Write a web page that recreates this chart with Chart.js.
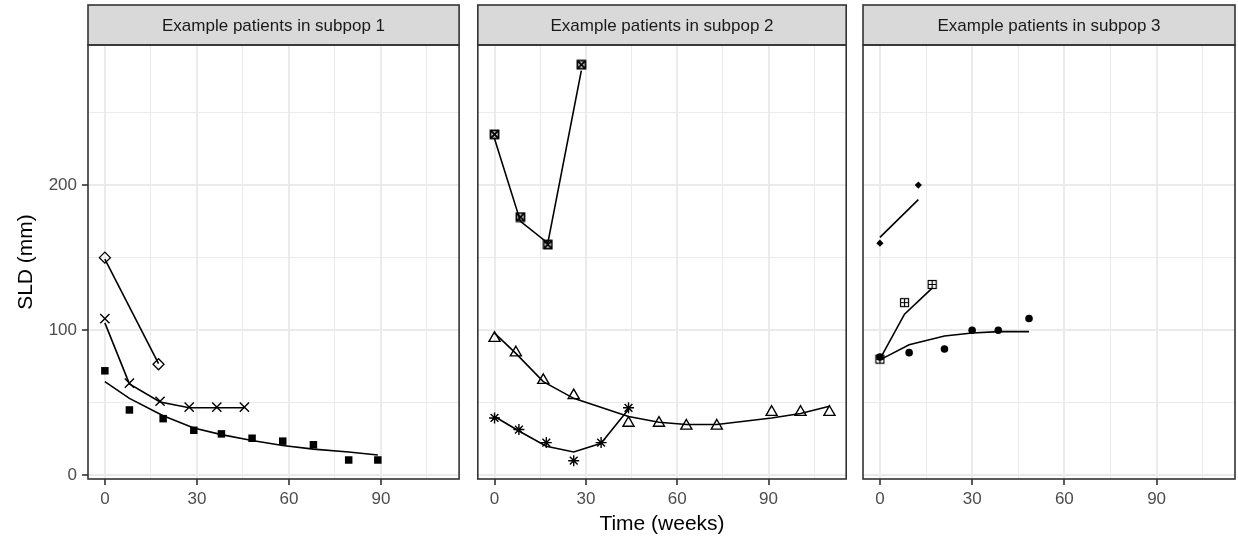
<!DOCTYPE html>
<html>
<head>
<meta charset="utf-8">
<title>SLD by subpopulation</title>
<script src="https://cdn.jsdelivr.net/npm/chart.js@4.4.0/dist/chart.umd.min.js"></script>
<style>
  html, body { margin: 0; padding: 0; background: #fff; }
  body { width: 1238px; height: 546px; position: relative; overflow: hidden; }
  .panel { position: absolute; top: 0; height: 546px; }
</style>
</head>
<body>
<div class="panel" style="left:0;width:467px"><canvas id="panel1"></canvas></div>
<div class="panel" style="left:470px;width:384px"><canvas id="panel2"></canvas></div>
<div class="panel" style="left:857px;width:384px"><canvas id="panel3"></canvas></div>
<script>
// axis breaks
const weekTicks = [0, 30, 60, 90];
const weekMinor = [15, 45, 75, 105];
const sldTicks = [0, 100, 200];
const sldMinor = [50, 150, 250];

const stripTitles = ['Example patients in subpop 1', 'Example patients in subpop 2', 'Example patients in subpop 3'];

// subpop 1
const weeksA = [0, 8, 19, 29, 38, 48, 58, 68, 79.5, 89];
const sldA = [72, 45, 39, 31, 28.5, 25.5, 23.5, 21, 10.5, 10.5];
const predA = [64.5, 53, 41, 32.5, 28, 24, 20.5, 18, 16, 14];

const weeksB = [0, 8, 18, 27.5, 36.5, 45.5];
const sldB = [108, 63.5, 51, 47, 47, 47];
const predB = [105, 63, 50.5, 46.5, 46.5, 46.5];

const weeksC = [0, 17.5];
const sldC = [150, 76.5];
const predC = [149, 77];

// subpop 2
const weeksD = [0, 8.5, 17.5, 28.5];
const sldD = [235, 178, 159, 283];
const predD = [232, 175, 160, 279];

const weeksE = [0, 7, 16, 26, 44, 54, 63, 73, 91, 100.5, 110];
const sldE = [94.5, 84.5, 65.5, 55, 36, 36, 34, 34, 43.5, 43.5, 43.5];
const predE = [98, 84, 64.5, 53, 40.5, 36.5, 35, 35, 39.5, 42.5, 47.5];

const weeksF = [0, 8, 17, 26, 35, 44];
const sldF = [39.5, 31.5, 22.5, 10, 22.5, 46.5];
const predF = [40.5, 30.5, 20, 16, 22, 45.5];

// subpop 3
const weeksG = [0, 12.5];
const sldG = [160, 200];
const predG = [164, 190];

const weeksH = [0, 8, 17];
const sldH = [80, 119, 131.5];
const predH = [80, 111, 129];

const weeksI = [0, 9.5, 21, 30, 38.5, 48.5];
const sldI = [81.5, 84.5, 87, 100, 100, 108];
const predI = [79.5, 90, 96, 98, 99, 99];

Chart.defaults.font.family = '"Liberation Sans", Arial, sans-serif';

// open square with an X or a + inside
function boxedMarker(kind, lw) {
  const c = document.createElement('canvas');
  c.width = 11; c.height = 11;
  const g = c.getContext('2d');
  g.strokeStyle = '#000';
  g.lineWidth = lw;
  g.strokeRect(1.5, 1.5, 8, 8);
  g.beginPath();
  if (kind === 'x') {
    g.moveTo(1.5, 1.5); g.lineTo(9.5, 9.5);
    g.moveTo(9.5, 1.5); g.lineTo(1.5, 9.5);
  } else {
    g.moveTo(5.5, 1.5); g.lineTo(5.5, 9.5);
    g.moveTo(1.5, 5.5); g.lineTo(9.5, 5.5);
  }
  g.stroke();
  return c;
}

const none = 'rgba(0,0,0,0)';
const shapes = {
  square: { pointStyle: 'rect', pointRadius: 5.3, pointBackgroundColor: '#000', pointBorderWidth: 0 },
  cross: { pointStyle: 'crossRot', pointRadius: 6.5, pointBackgroundColor: none, pointBorderWidth: 1.4 },
  diamond: { pointStyle: 'rectRot', pointRadius: 5.5, pointBackgroundColor: none, pointBorderWidth: 1.3 },
  boxX: { pointStyle: boxedMarker('x', 1.8), pointRadius: 5 },
  triangle: { pointStyle: 'triangle', pointRadius: 6.4, pointBackgroundColor: none, pointBorderWidth: 1.4 },
  asterisk: { pointStyle: 'star', pointRadius: 5.5, pointBackgroundColor: none, pointBorderWidth: 1.4 },
  smallDiamond: { pointStyle: 'rectRot', pointRadius: 3.6, pointBackgroundColor: '#000', pointBorderWidth: 0 },
  boxPlus: { pointStyle: boxedMarker('+', 1.2), pointRadius: 5 },
  dot: { pointStyle: 'circle', pointRadius: 3.8, pointBackgroundColor: '#000', pointBorderWidth: 0 }
};

function xy(xs, ys) {
  return xs.map((x, i) => ({ x: x, y: ys[i] }));
}

// predicted curve + observed points for one patient
function patient(weeks, sld, pred, shape) {
  return [
    { data: xy(weeks, pred), showLine: true, borderColor: '#000', borderWidth: 1.6, pointRadius: 0, tension: 0 },
    Object.assign({ data: xy(weeks, sld), showLine: false, borderColor: '#000', pointBorderColor: '#000' }, shape)
  ];
}

const panelData = [
  [...patient(weeksA, sldA, predA, shapes.square), ...patient(weeksB, sldB, predB, shapes.cross), ...patient(weeksC, sldC, predC, shapes.diamond)],
  [...patient(weeksD, sldD, predD, shapes.boxX), ...patient(weeksE, sldE, predE, shapes.triangle), ...patient(weeksF, sldF, predF, shapes.asterisk)],
  [...patient(weeksG, sldG, predG, shapes.smallDiamond), ...patient(weeksH, sldH, predH, shapes.boxPlus), ...patient(weeksI, sldI, predI, shapes.dot)]
];

// grey strip on top and dark frame round the panel
const facetFrame = {
  id: 'facetFrame',
  afterDatasetsDraw(chart, args, opts) {
    const { ctx, chartArea: a } = chart;
    const w = a.right - a.left;
    ctx.save();
    ctx.fillStyle = '#D9D9D9';
    ctx.fillRect(a.left, 5, w, a.top - 5);
    ctx.strokeStyle = '#333333';
    ctx.lineWidth = 1.6;
    ctx.strokeRect(a.left, 5, w, a.top - 5);
    ctx.strokeRect(a.left, a.top, w, a.bottom - a.top);
    ctx.fillStyle = '#1A1A1A';
    ctx.font = '17px "Liberation Sans", Arial, sans-serif';
    ctx.textAlign = 'center';
    ctx.textBaseline = 'middle';
    ctx.fillText(opts.title, (a.left + a.right) / 2, (5 + a.top) / 2 + 1);
    ctx.restore();
  }
};

function gridStyle(majors) {
  return {
    color: '#EBEBEB',
    lineWidth: c => (c.tick && majors.includes(c.tick.value) ? 2 : 1),
    tickColor: c => (c.tick && majors.includes(c.tick.value) ? '#333333' : none),
    tickLength: 6,
    tickWidth: 1.6
  };
}

function xAxis(showTitle) {
  const breaks = weekTicks.concat(weekMinor).sort((a, b) => a - b);
  return {
    type: 'linear',
    min: -5.5,
    max: 115.5,
    afterBuildTicks: s => { s.ticks = breaks.map(v => ({ value: v })); },
    afterFit: s => {
      s.height = 67;
      s.paddingLeft = 0;
      s.paddingRight = 0;
    },
    grid: gridStyle(weekTicks),
    border: { display: false },
    ticks: {
      autoSkip: false,
      maxRotation: 0,
      padding: 4,
      color: '#4D4D4D',
      font: { size: 17 },
      callback: v => (weekTicks.includes(v) ? v : '')
    },
    title: { display: showTitle, text: 'Time (weeks)', color: '#000', font: { size: 21 }, padding: { top: 0, bottom: 9 } }
  };
}

function yAxis(first) {
  const breaks = sldTicks.concat(sldMinor).sort((a, b) => a - b);
  const grid = gridStyle(sldTicks);
  grid.drawTicks = first;
  return {
    type: 'linear',
    min: -2.6,
    max: 296.6,
    afterBuildTicks: s => { s.ticks = breaks.map(v => ({ value: v })); },
    afterFit: s => {
      s.width = first ? 88 : 0;
      s.paddingTop = 0;
      s.paddingBottom = 0;
    },
    grid: grid,
    border: { display: false },
    ticks: {
      display: first,
      padding: 5,
      color: '#4D4D4D',
      font: { size: 17 },
      callback: v => (sldTicks.includes(v) ? v : '')
    },
    title: { display: first, text: 'SLD (mm)', color: '#000', font: { size: 21 }, padding: { top: 14, bottom: 0 } }
  };
}

['panel1', 'panel2', 'panel3'].forEach((id, i) => {
  new Chart(document.getElementById(id), {
    type: 'scatter',
    data: { datasets: panelData[i] },
    options: {
      responsive: true,
      maintainAspectRatio: false,
      animation: false,
      events: [],
      layout: { padding: { top: 45, left: i === 0 ? 0 : 5, right: 5, bottom: 0 } },
      plugins: {
        legend: { display: false },
        tooltip: { enabled: false },
        facetFrame: { title: stripTitles[i] }
      },
      scales: { x: xAxis(i === 1), y: yAxis(i === 0) }
    },
    plugins: [facetFrame]
  });
});
</script>
</body>
</html>
